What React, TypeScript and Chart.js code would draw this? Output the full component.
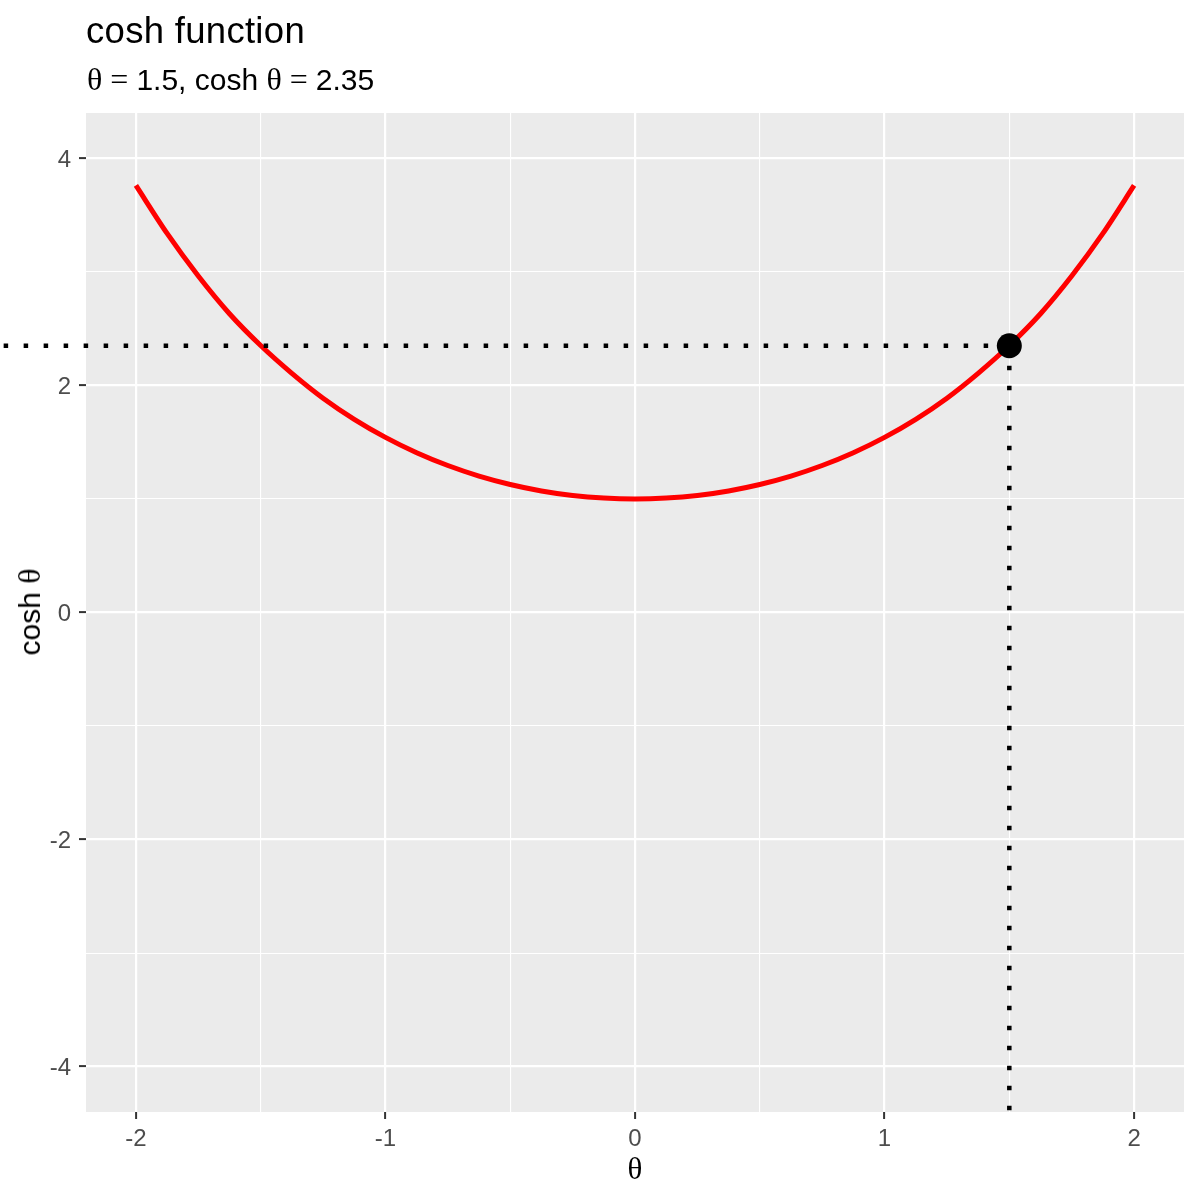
import React, { useEffect, useRef } from 'react'
import Chart, { ChartConfiguration } from 'chart.js/auto'

// curve (theta, cosh theta)
const thetaValues = [
  -2, -1.875, -1.75, -1.625, -1.5, -1.375, -1.25, -1.125, -1, -0.875, -0.75, -0.625, -0.5, -0.375, -0.25, -0.125, 0,
  0.125, 0.25, 0.375, 0.5, 0.625, 0.75, 0.875, 1, 1.125, 1.25, 1.375, 1.5, 1.625, 1.75, 1.875, 2
]
const coshValues = [
  3.762, 3.339, 2.964, 2.632, 2.352, 2.107, 1.888, 1.702, 1.543, 1.408, 1.295, 1.202, 1.128, 1.071, 1.031, 1.008, 1.0,
  1.008, 1.031, 1.071, 1.128, 1.202, 1.295, 1.408, 1.543, 1.702, 1.888, 2.107, 2.352, 2.632, 2.964, 3.339, 3.762
]

// highlighted point and its guide lines
const pointTheta = 1.5
const pointCosh = 2.35
const hGuideX = [-2.53, 1.5]
const vGuideY = [2.35, -4.4]

const xTicks = [-2, -1.5, -1, -0.5, 0, 0.5, 1, 1.5, 2]
const yTicks = [-4, -3, -2, -1, 0, 1, 2, 3, 4]
const xMajor = [-2, -1, 0, 1, 2]
const yMajor = [-4, -2, 0, 2, 4]

const SANS = '"Liberation Sans", Arial, sans-serif'
const SERIF = '"Liberation Serif", "Times New Roman", serif'

const panelBg = {
  id: 'panelBg',
  beforeDraw(chart: Chart) {
    const { ctx, chartArea: a } = chart
    ctx.save()
    ctx.fillStyle = '#EBEBEB'
    ctx.fillRect(a.left, a.top, a.right - a.left, a.bottom - a.top)
    ctx.restore()
  }
}

const CoshChart: React.FC = () => {
  const chartRef = useRef<HTMLCanvasElement | null>(null)

  useEffect(() => {
    if (!chartRef.current) return

    const gridFor = (major: number[]) => ({
      color: '#FFFFFF',
      lineWidth: (c: any) => (major.includes(c.tick?.value) ? 2.2 : 1.1),
      tickColor: (c: any) => (major.includes(c.tick?.value) ? '#333333' : 'rgba(0,0,0,0)'),
      tickWidth: 2,
      tickLength: 7,
      drawTicks: true
    })

    const config: ChartConfiguration<'scatter'> = {
      type: 'scatter',
      data: {
        datasets: [
          {
            data: [{ x: pointTheta, y: pointCosh }],
            backgroundColor: '#000000',
            borderColor: '#000000',
            pointRadius: 12.5,
            borderWidth: 0,
            order: 0,
            clip: false
          },
          {
            data: hGuideX.map((x) => ({ x, y: pointCosh })),
            showLine: true,
            borderColor: '#000000',
            borderWidth: 4.5,
            borderDash: [4.5, 15.5],
            borderCapStyle: 'butt',
            pointRadius: 0,
            order: 1,
            clip: false
          },
          {
            data: vGuideY.map((y) => ({ x: pointTheta, y })),
            showLine: true,
            borderColor: '#000000',
            borderWidth: 4.5,
            borderDash: [4.5, 15.5],
            borderCapStyle: 'butt',
            pointRadius: 0,
            order: 1,
            clip: false
          },
          {
            data: thetaValues.map((x, i) => ({ x, y: coshValues[i] })),
            showLine: true,
            borderColor: '#FF0000',
            borderWidth: 5,
            tension: 0.3,
            pointRadius: 0,
            order: 2
          }
        ]
      },
      options: {
        animation: false,
        responsive: false,
        events: [],
        layout: { padding: { left: 46, top: 113, right: 16, bottom: 38 } },
        plugins: {
          legend: { display: false },
          tooltip: { enabled: false },
          title: { display: false }
        },
        scales: {
          x: {
            type: 'linear',
            min: -2.2,
            max: 2.2,
            afterBuildTicks: (s: any) => {
              s.ticks = xTicks.map((value) => ({ value }))
            },
            afterFit: (s: any) => {
              s.height = 50
            },
            border: { display: false },
            grid: gridFor(xMajor),
            ticks: {
              autoSkip: false,
              maxRotation: 0,
              padding: 6,
              color: '#4D4D4D',
              font: { family: SANS, size: 24 },
              callback: (v: any) => (xMajor.includes(Number(v)) ? String(v) : '')
            }
          },
          y: {
            type: 'linear',
            min: -4.4,
            max: 4.4,
            afterBuildTicks: (s: any) => {
              s.ticks = yTicks.map((value) => ({ value }))
            },
            afterFit: (s: any) => {
              s.width = 40
            },
            border: { display: false },
            grid: gridFor(yMajor),
            ticks: {
              autoSkip: false,
              padding: 8,
              labelOffset: 2,
              color: '#4D4D4D',
              font: { family: SANS, size: 24 },
              callback: (v: any) => (yMajor.includes(Number(v)) ? String(v) : '')
            }
          }
        }
      },
      plugins: [panelBg]
    }

    const chart = new Chart(chartRef.current, config)
    return () => {
      chart.destroy()
    }
  }, [])

  return <canvas ref={chartRef} width={1200} height={1200} style={{ position: 'absolute', left: 0, top: 0, width: 1200, height: 1200 }} />
}

const App: React.FC = () => {
  return (
    <div style={{ position: 'fixed', left: 0, top: 0, width: 1200, height: 1200, background: '#FFFFFF', color: '#000000' }}>
      <CoshChart />
      <div style={{ position: 'absolute', left: 86, top: 13, fontFamily: SANS, fontSize: 36.5, lineHeight: 1, letterSpacing: 0.3, whiteSpace: 'nowrap' }}>
        cosh function
      </div>
      <div style={{ position: 'absolute', left: 87, top: 63, fontFamily: SANS, fontSize: 30, lineHeight: 1, whiteSpace: 'nowrap' }}>
        <span style={{ fontFamily: SERIF, fontSize: 32 }}>θ = </span>1.5, cosh <span style={{ fontFamily: SERIF, fontSize: 32 }}>θ = </span>2.35
      </div>
      <div style={{ position: 'absolute', left: 635, top: 1153, transform: 'translateX(-50%)', fontFamily: SERIF, fontSize: 31, lineHeight: 1 }}>
        θ
      </div>
      <div
        style={{
          position: 'absolute',
          left: 29,
          top: 612,
          transform: 'translate(-50%, -50%) rotate(-90deg)',
          fontFamily: SANS,
          fontSize: 30,
          lineHeight: 1,
          whiteSpace: 'nowrap'
        }}
      >
        cosh <span style={{ fontFamily: SERIF, fontSize: 32 }}>θ</span>
      </div>
    </div>
  )
}

export default App
